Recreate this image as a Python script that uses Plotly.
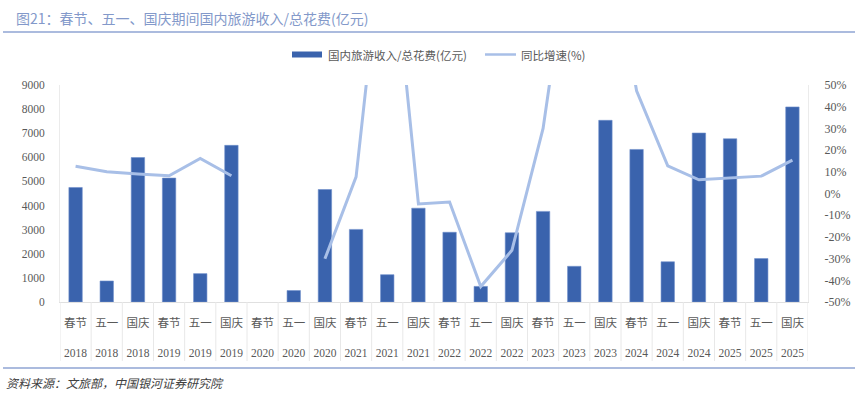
import plotly.graph_objects as go

# ---------------- data ----------------
festivals = ["春节", "五一", "国庆"] * 8
years = [str(y) for y in range(2018, 2026) for _ in range(3)]
revenue = [4750, 871.6, 5990.8, 5139, 1176.7, 6497.1, None, 475.6, 4665.6,
           3011, 1132.3, 3890.6, 2891.98, 646.8, 2872.1, 3758.43, 1480.56, 7534.3,
           6326.87, 1668.9, 7008.17, 6770.02, 1802.69, 8090.06]
growth = [12.6, 10.0, 9.0, 8.2, 16.1, 8.2, None, None, -30.1,
          7.7, 138.1, -4.8, -3.9, -42.9, -26.2, 30.0, 128.9, 129.5,
          47.3, 12.7, 6.3, 7.0, 8.0, 15.4]
left_ticks = [0, 1000, 2000, 3000, 4000, 5000, 6000, 7000, 8000, 9000]
right_ticks = [-50, -40, -30, -20, -10, 0, 10, 20, 30, 40, 50]
right_ticktext = [f"{v}%" for v in right_ticks]

title_text = "图21：春节、五一、国庆期间国内旅游收入/总花费(亿元)"
bar_name = "国内旅游收入/总花费(亿元)"
line_name = "同比增速(%)"
source_text = "资料来源：文旅部，中国银河证券研究院"

BAR = "#3A63AD"
LINE = "#A8BFE7"
GRAY = "#595959"
RULE = "#8FA5D3"
SEP = "#E8E8E8"
CJK = "Noto Sans CJK SC"
SERIF = "Liberation Serif, Noto Sans CJK SC"

x_idx = list(range(len(festivals)))
ticktext = [f"{f}<br><br>{y}" for f, y in zip(festivals, years)]

fig = go.Figure()
fig.add_trace(go.Bar(
    x=x_idx, y=revenue, name=bar_name, marker=dict(color=BAR, line=dict(color="#6F8FCB", width=0.6)),
    width=0.43, yaxis="y", showlegend=False,
))
fig.add_trace(go.Scatter(
    x=x_idx, y=growth, name=line_name, mode="lines",
    line=dict(color=LINE, width=3), yaxis="y2", connectgaps=False, showlegend=False,
))

# geometry helpers (paper coords from pixel positions)
L, R, T, B = 60, 808, 85, 302
W, H = R - L, B - T
def px(x): return (x - L) / W
def py(y): return (B - y) / H

shapes = []
# category separators below axis
for i in range(len(festivals) + 1):
    shapes.append(dict(type="line", xref="x", yref="paper", x0=i - 0.5, x1=i - 0.5,
                       y0=0, y1=py(361), line=dict(color=SEP, width=1)))
# top and bottom rules
shapes.append(dict(type="line", xref="paper", yref="paper", x0=px(3), x1=px(855),
                   y0=py(32), y1=py(32), line=dict(color=RULE, width=1.5)))
shapes.append(dict(type="line", xref="paper", yref="paper", x0=px(3), x1=px(855),
                   y0=py(368), y1=py(368), line=dict(color=RULE, width=1.5)))
# legend swatches
shapes.append(dict(type="rect", xref="paper", yref="paper", x0=px(292), x1=px(322),
                   y0=py(57.5), y1=py(51.5), fillcolor=BAR, line=dict(width=0)))
shapes.append(dict(type="line", xref="paper", yref="paper", x0=px(485), x1=px(516),
                   y0=py(54.5), y1=py(54.5), line=dict(color=LINE, width=2.5)))

annotations = [
    dict(text=title_text, xref="paper", yref="paper", x=px(14), y=py(18),
         xanchor="left", yanchor="middle", showarrow=False,
         font=dict(family=CJK, size=14, color="#8399CA")),
    dict(text=bar_name, xref="paper", yref="paper", x=px(326), y=py(54.5),
         xanchor="left", yanchor="middle", showarrow=False,
         font=dict(family=CJK, size=11.5, color=GRAY)),
    dict(text=line_name, xref="paper", yref="paper", x=px(519), y=py(54.5),
         xanchor="left", yanchor="middle", showarrow=False,
         font=dict(family=CJK, size=11.5, color=GRAY)),
    dict(text=source_text, xref="paper", yref="paper", x=px(4), y=py(382),
         xanchor="left", yanchor="middle", showarrow=False,
         font=dict(family=CJK, size=12, color="#404040", style="italic")),
]

fig.update_layout(
    width=855, height=394,
    margin=dict(l=L, r=855 - R, t=T, b=394 - B, autoexpand=False),
    paper_bgcolor="white", plot_bgcolor="white",
    shapes=shapes, annotations=annotations,
    xaxis=dict(
        tickmode="array", tickvals=x_idx, ticktext=ticktext,
        range=[-0.5, len(festivals) - 0.5], automargin=False,
        showgrid=False, zeroline=False, showline=True, linecolor="#E0E0E0", linewidth=1,
        ticks="", tickfont=dict(family=SERIF, size=11.5, color=GRAY), ticklabelstandoff=10,
    ),
    yaxis=dict(
        range=[0, 9000], tickmode="array", tickvals=left_ticks, automargin=False,
        showgrid=False, zeroline=False, showline=True, linecolor="#EBEBEB", linewidth=1,
        ticks="", tickfont=dict(family=SERIF, size=11.5, color=GRAY), ticklabelstandoff=12,
    ),
    yaxis2=dict(
        range=[-50, 50], tickmode="array", tickvals=right_ticks, ticktext=right_ticktext,
        overlaying="y", side="right", automargin=False,
        showgrid=False, zeroline=False, showline=True, linecolor="#EBEBEB", linewidth=1,
        ticks="", tickfont=dict(family=SERIF, size=12, color=GRAY), ticklabelstandoff=13,
    ),
    showlegend=False,
)

fig.write_html("out.html", config={"displayModeBar": False},
               post_script="document.body.style.margin='0';")
